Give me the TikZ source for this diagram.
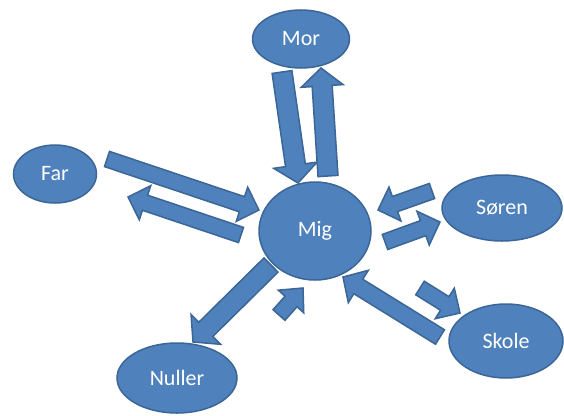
\documentclass[tikz,border=0pt]{standalone}
\usepackage{fontspec}
\setmainfont{Carlito}
\usepackage{tikz}
\usetikzlibrary{shapes.geometric, calc}
\definecolor{officeblue}{HTML}{4F81BD}
\definecolor{edgeblue}{HTML}{3B6696}
\tikzstyle{person} = [ellipse, draw=edgeblue, line width=1.5pt, fill=officeblue, text=white, inner sep=0pt, font=\fontsize{22}{26}\selectfont]
\tikzstyle{blockarrow} = [draw=edgeblue, line width=1.5pt, fill=officeblue, line join=miter]

% block arrow from tail #1 to tip #2, half shaft #3, half head #4
\newcommand{\blockarr}[4]{%
	\coordinate (hb) at ($(#2)!18pt!(#1)$);
	\draw [blockarrow] ($(#1)!#3!90:(#2)$) -- ($(hb)!#3!90:(#2)$) -- ($(hb)!#4!90:(#2)$) -- (#2)
		-- ($(hb)!#4!-90:(#2)$) -- ($(hb)!#3!-90:(#2)$) -- ($(#1)!#3!-90:(#2)$) -- cycle;}

\begin{document}
\begin{tikzpicture}[x=1pt, y=-1pt]
			\useasboundingbox (0,0) rectangle (564,415);

			\node (mig) [person, minimum width=112pt, minimum height=98pt] at (315,231) {Mig};
			\node (mor) [person, minimum width=97pt, minimum height=58pt] at (301,39) {Mor};
			\node (far) [person, minimum width=83pt, minimum height=58pt] at (55,174) {Far};
			\node (soren) [person, minimum width=120pt, minimum height=66pt] at (502,208) {Søren};
			\node (nuller) [person, minimum width=120pt, minimum height=70pt] at (177,378) {Nuller};
			\node (skole) [person, minimum width=114pt, minimum height=74pt] at (506,341) {Skole};

			\coordinate (morMigT) at (282,72);   \coordinate (morMigH) at (298,183);
			\coordinate (migMorT) at (328,176);  \coordinate (migMorH) at (321,68);
			\coordinate (farMigT) at (107,159);  \coordinate (farMigH) at (259,210);
			\coordinate (migFarT) at (241,235);  \coordinate (migFarH) at (128,197);
			\coordinate (sorenMigT) at (432,191); \coordinate (sorenMigH) at (378,210);
			\coordinate (migSorenT) at (385,242); \coordinate (migSorenH) at (440,222);
			\coordinate (migNullerT) at (271,265); \coordinate (migNullerH) at (193,342);
			\coordinate (nullerMigT) at (279,315); \coordinate (nullerMigH) at (303,288);
			\coordinate (skoleMigT) at (440,337); \coordinate (skoleMigH) at (343,277);
			\coordinate (migSkoleT) at (420,288); \coordinate (migSkoleH) at (460,313);

			\blockarr{morMigT}{morMigH}{10pt}{22pt}
			\blockarr{migMorT}{migMorH}{10pt}{21pt}
			\blockarr{farMigT}{farMigH}{8pt}{18pt}
			\blockarr{migFarT}{migFarH}{8pt}{18pt}
			\blockarr{sorenMigT}{sorenMigH}{8pt}{18pt}
			\blockarr{migSorenT}{migSorenH}{8pt}{18pt}
			\blockarr{migNullerT}{migNullerH}{10pt}{21pt}
			\blockarr{nullerMigT}{nullerMigH}{8pt}{17pt}
			\blockarr{skoleMigT}{skoleMigH}{8.5pt}{19pt}
			\blockarr{migSkoleT}{migSkoleH}{8pt}{18pt}
		\end{tikzpicture}
\end{document}
